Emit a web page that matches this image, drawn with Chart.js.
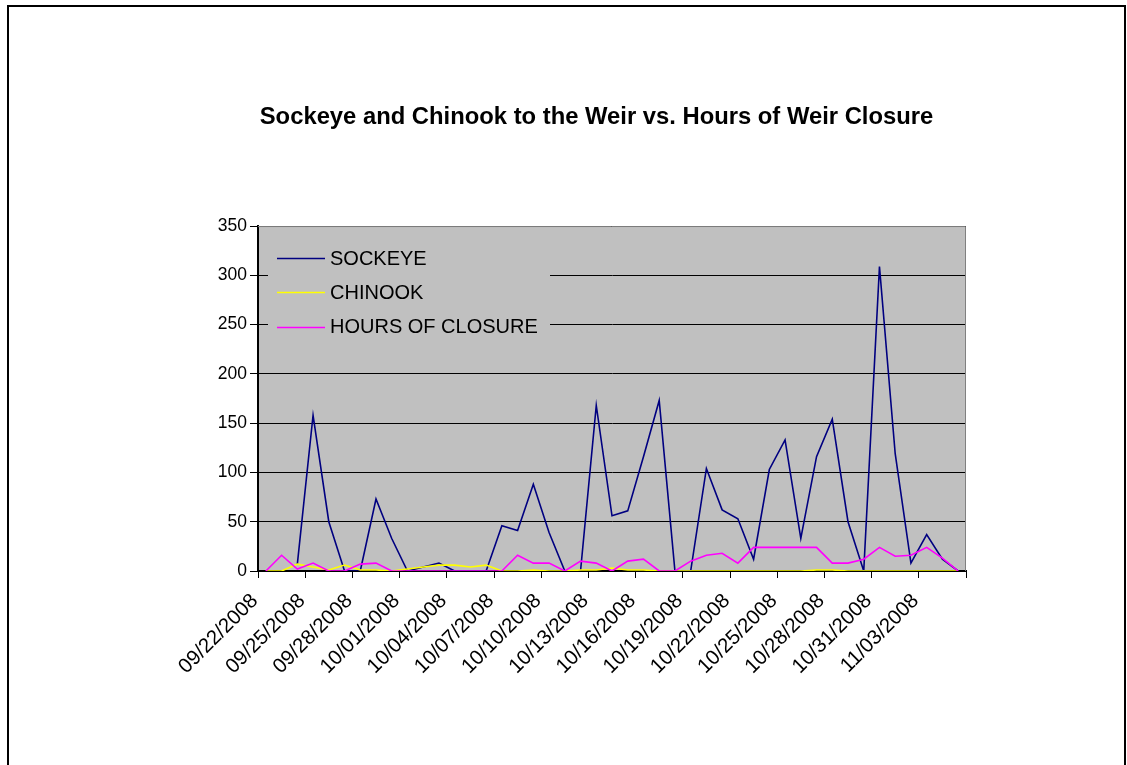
<!DOCTYPE html>
<html>
<head>
<meta charset="utf-8">
<script src="https://cdn.jsdelivr.net/npm/chart.js@4/dist/chart.umd.min.js"></script>
<style>
  html, body { margin: 0; padding: 0; background: #fff; }
  #wrap { position: relative; width: 1127px; height: 765px; overflow: hidden; }
  #frame { position: absolute; left: 7px; top: 5px; width: 1119px; height: 800px; border: 2px solid #000; box-sizing: border-box; pointer-events: none; }
  canvas { position: absolute; left: 0; top: 0; }
</style>
</head>
<body>
<div id="wrap">
  <canvas id="c" width="1127" height="765"></canvas>
  <div id="frame"></div>
</div>
<script>
// Daily counts at the weir, 09/22/2008 - 11/05/2008
const dates = [
  '09/22/2008','09/23/2008','09/24/2008','09/25/2008','09/26/2008','09/27/2008','09/28/2008','09/29/2008','09/30/2008',
  '10/01/2008','10/02/2008','10/03/2008','10/04/2008','10/05/2008','10/06/2008','10/07/2008','10/08/2008','10/09/2008',
  '10/10/2008','10/11/2008','10/12/2008','10/13/2008','10/14/2008','10/15/2008','10/16/2008','10/17/2008','10/18/2008',
  '10/19/2008','10/20/2008','10/21/2008','10/22/2008','10/23/2008','10/24/2008','10/25/2008','10/26/2008','10/27/2008',
  '10/28/2008','10/29/2008','10/30/2008','10/31/2008','11/01/2008','11/02/2008','11/03/2008','11/04/2008','11/05/2008'
];
const sockeye = [null, null, 7, 158, 50, 0, 0, 73, 33, 0, 4, 8, 0, 0, 0, 46, 41, 88, 39, 0, 0, 168, 56, 61, 116, 173, 0, 0, 104, 62, 53, 12, 103, 133, 33, 116, 154, 50, 0, 309, 119, 8, 37, 12, 0];
const chinook = [0, 0, 7, 4, 1, 6, 1, 1, 0, 2, 4, 6, 6, 4, 6, 0, 0, 1, 0, 0, 1, 1, 3, 1, 1, 0, 0, 0, 0, 0, 0, 0, 0, 0, 0, 1, 1, 0, 0, 0, 0, 0, 0, 0, 0];
const hoursClosed = [0, 16, 2, 8, 0, 0, 7, 8, 0, 0, 0, 0, 0, 0, 0, 0, 16, 8, 8, 0, 10, 8, 0, 10, 12, 0, 0, 10, 16, 18, 8, 24, 24, 24, 24, 24, 8, 8, 12, 24, 15, 16, 24, 13, 0];
const yTicks = [0, 50, 100, 150, 200, 250, 300, 350];

const FONT = '"Liberation Sans", Arial, sans-serif';
const seriesStyle = [
  { label: 'SOCKEYE', color: '#000080' },
  { label: 'CHINOOK', color: '#FFFF00' },
  { label: 'HOURS OF CLOSURE', color: '#FF00FF' }
];

// Grey plot background plus the grey frame on the top and right edges
const plotArea = {
  id: 'plotArea',
  afterLayout(chart) {
    // centre the title over the whole chart object rather than the padded box
    const t = chart.titleBlock;
    if (t) { t.left += 13.5; t.right += 13.5; }
  },
  beforeDraw(chart) {
    const { ctx, chartArea: a } = chart;
    ctx.save();
    ctx.fillStyle = '#C0C0C0';
    ctx.fillRect(a.left, a.top, a.right - a.left, a.bottom - a.top);
    ctx.restore();
  },
  afterDraw(chart) {
    const { ctx, chartArea: a } = chart;
    ctx.save();
    ctx.strokeStyle = '#808080';
    ctx.lineWidth = 1;
    ctx.beginPath();
    ctx.moveTo(a.left, a.top + 0.5);
    ctx.lineTo(a.right - 0.5, a.top + 0.5);
    ctx.lineTo(a.right - 0.5, a.bottom);
    ctx.stroke();
    ctx.restore();
  }
};

// Legend box sitting inside the plot, over the grid lines
const innerLegend = {
  id: 'innerLegend',
  beforeDatasetsDraw(chart) {
    const { ctx, chartArea: a } = chart;
    ctx.save();
    ctx.fillStyle = '#C0C0C0';
    ctx.fillRect(a.left + 10, a.top + 12, 282, 106);
    ctx.font = '20px ' + FONT;
    ctx.textBaseline = 'middle';
    ctx.textAlign = 'left';
    seriesStyle.forEach((s, i) => {
      const y = a.top + 32 + i * 34.3;
      ctx.strokeStyle = s.color;
      ctx.lineWidth = 1.5;
      ctx.beginPath();
      ctx.moveTo(a.left + 19, Math.round(y) + 0.5);
      ctx.lineTo(a.left + 67, Math.round(y) + 0.5);
      ctx.stroke();
      ctx.fillStyle = '#000';
      ctx.fillText(s.label, a.left + 72, y + 1);
    });
    ctx.restore();
  }
};

const seriesData = [sockeye, chinook, hoursClosed];

new Chart(document.getElementById('c'), {
  type: 'line',
  data: {
    labels: dates,
    datasets: seriesStyle.map((s, i) => ({
      label: s.label,
      data: seriesData[i],
      borderColor: s.color,
      backgroundColor: s.color,
      borderWidth: 1.6,
      pointRadius: 0,
      tension: 0,
      spanGaps: false,
      order: 3 - i
    }))
  },
  options: {
    responsive: false,
    animation: false,
    devicePixelRatio: 1,
    layout: { padding: { left: 200, right: 161, top: 0, bottom: 44 } },
    plugins: {
      legend: { display: false },
      tooltip: { enabled: false },
      title: {
        display: true,
        text: 'Sockeye and Chinook to the Weir vs. Hours of Weir Closure',
        color: '#000',
        font: { family: FONT, size: 23.8, weight: 'bold', lineHeight: 1.2 },
        padding: { top: 103, bottom: 94.5 }
      }
    },
    scales: {
      x: {
        type: 'category',
        offset: true,
        afterFit(s) { s.height = 150; },
        grid: {
          offset: true,
          drawOnChartArea: false,
          drawTicks: true,
          tickLength: 7,
          tickWidth: 1,
          tickColor: (c) => (c.index === undefined || c.index % 3 === 0) ? '#000' : 'rgba(0,0,0,0)'
        },
        border: { display: true, color: '#000', width: 2 },
        ticks: {
          autoSkip: false,
          minRotation: 45,
          maxRotation: 45,
          labelOffset: -11,
          padding: 11,
          color: '#000',
          font: { family: FONT, size: 20.5 },
          callback: (v, i) => (i % 3 === 0 ? dates[i] : '')
        }
      },
      y: {
        min: yTicks[0],
        max: yTicks[yTicks.length - 1],
        afterFit(s) { s.width = 58; },
        afterBuildTicks(s) { s.ticks = yTicks.map(v => ({ value: v })); },
        grid: {
          color: '#000',
          lineWidth: 1,
          drawTicks: true,
          tickLength: 8,
          tickColor: '#000'
        },
        border: { display: true, color: '#000', width: 2 },
        ticks: {
          padding: 3,
          color: '#000',
          font: { family: FONT, size: 17.5 }
        }
      }
    }
  },
  plugins: [plotArea, innerLegend]
});
</script>
</body>
</html>
